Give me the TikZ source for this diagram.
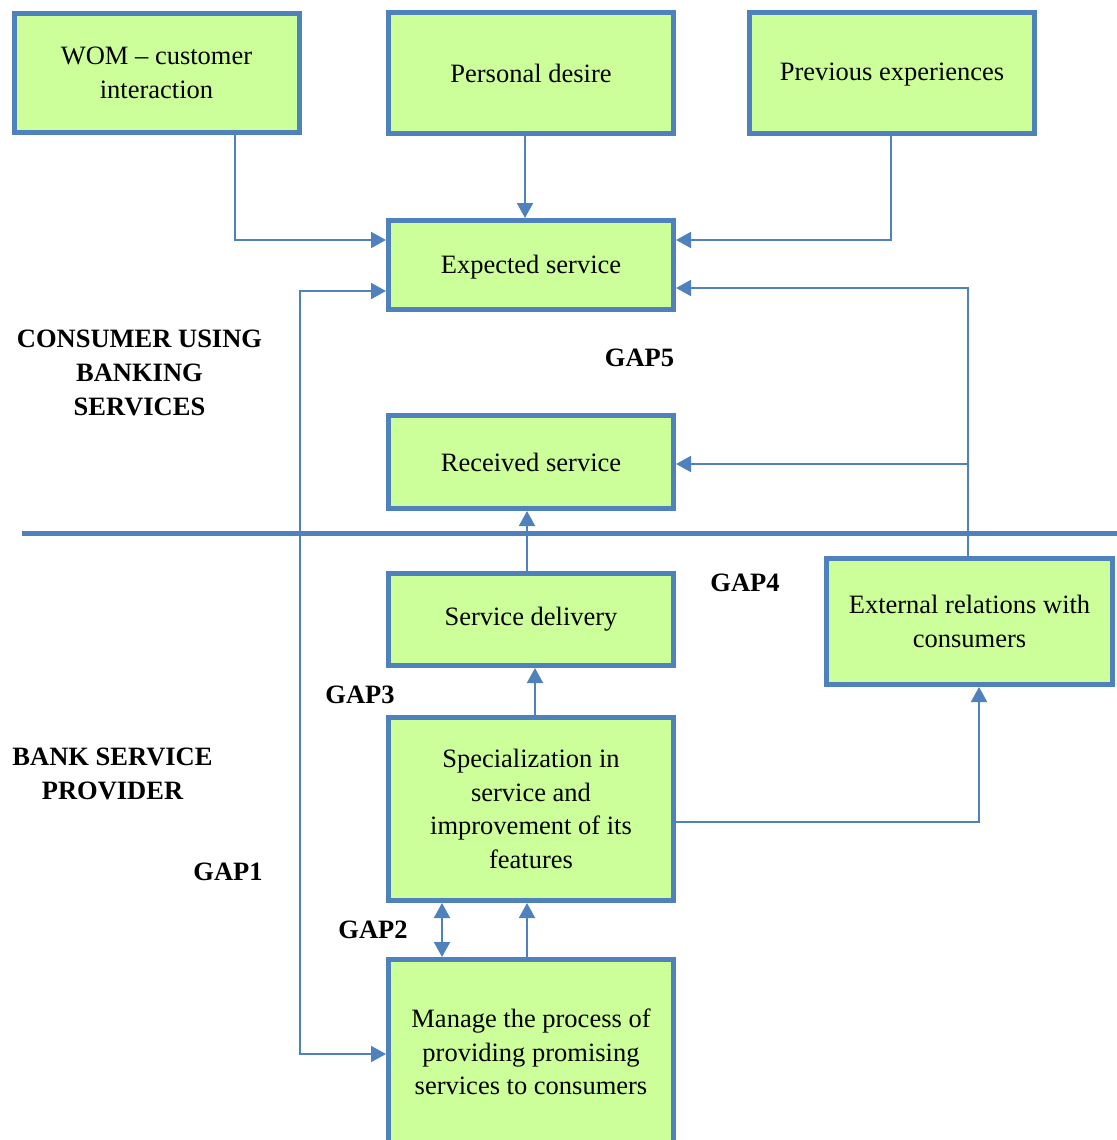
\documentclass[tikz,border=0pt]{standalone}
\usepackage{fontspec}
\setmainfont{Liberation Serif}
\usetikzlibrary{arrows.meta,positioning}

\definecolor{gapblue}{HTML}{4F81BD}
\definecolor{gapgreen}{HTML}{CCFF99}

\tikzset{
  block/.style={draw=gapblue, fill=gapgreen, line width=2.5pt, align=center,
    minimum width=142.5pt, inner sep=0pt, font=\fontsize{13.25}{16.8}\selectfont},
  link/.style={draw=gapblue, line width=1pt, -{Triangle[length=7.5pt,width=8pt]}},
  twoway/.style={draw=gapblue, line width=1pt, {Triangle[length=7.5pt,width=8pt]}-{Triangle[length=7.5pt,width=8pt]}},
  gaplabel/.style={font=\fontsize{13.25}{16.8}\selectfont\bfseries, align=center},
}

\begin{document}
\begin{tikzpicture}[x=0.5pt,y=-0.5pt]
  \useasboundingbox (0,0) rectangle (1117,1140);

  % consumer side
  \node[block, minimum height=59.5pt] (wom) at (156.5,73) {WOM -- customer\\interaction};
  \node[block, minimum height=60.5pt] (desire) at (531,73) {Personal desire};
  \node[block, minimum height=60.5pt, text depth=1.5pt] (prev) at (892,73) {Previous experiences};
  \node[block, minimum height=44.5pt, text height=11pt] (expected) at (531,265) {Expected service};
  \node[block, minimum height=46.5pt] (received) at (531,462) {Received service};

  % provider side
  \node[block, minimum height=46pt] (delivery) at (531,619.5) {Service delivery};
  \node[block, minimum width=143pt, minimum height=63pt] (external) at (969.5,621.5) {External relations with\\consumers};
  \node[block, minimum height=91.5pt] (special) at (531,809) {Specialization in\\service and\\improvement of its\\features};
  \node[block, minimum height=92.5pt] (manage) at (531,1052) {Manage the process of\\providing promising\\services to consumers};

  \draw[gapblue, line width=2.5pt] (22,533) -- (1117,533);

  % labels
  \node[gaplabel] (consumer) at (139.5,373) {CONSUMER USING\\BANKING\\SERVICES};
  \node[gaplabel] (provider) at (112.5,774) {BANK SERVICE\\PROVIDER};
  \node[gaplabel] (gap5) at (639.5,358) {GAP5};
  \node[gaplabel] (gap4) at (745,583) {GAP4};
  \node[gaplabel] (gap3) at (360,695) {GAP3};
  \node[gaplabel] (gap1) at (228,872) {GAP1};
  \node[gaplabel] (gap2) at (373,930) {GAP2};

  \coordinate (gapone) at (300,700);
  \coordinate (extup) at (968,464);

  % connectors
  \draw[link] ([xshift=39.25pt]wom.south) |- ([yshift=12.5pt]expected.west);
  \draw[link] ([xshift=-3pt]desire.south) -- ([xshift=-3pt]expected.north);
  \draw[link] ([xshift=-0.5pt]prev.south) |- ([yshift=12.5pt]expected.east);
  \draw[twoway] ([yshift=-13pt]expected.west) -| (gapone) |- ([yshift=-1pt]manage.west);
  \draw[link] ([xshift=-0.75pt]external.north) |- ([yshift=-11.5pt]expected.east);
  \draw[link] (extup) -- (received.east |- extup);
  \draw[link] ([xshift=-2pt]delivery.north) -- ([xshift=-2pt]received.south);
  \draw[link] ([xshift=2pt]special.north) -- ([xshift=2pt]delivery.south);
  \draw[link] ([yshift=-6.5pt]special.east) -| ([xshift=4.75pt]external.south);
  \draw[twoway] ([xshift=-44.5pt]special.south) -- ([xshift=-44.5pt]manage.north);
  \draw[link] ([xshift=-2pt]manage.north) -- ([xshift=-2pt]special.south);
\end{tikzpicture}
\end{document}
